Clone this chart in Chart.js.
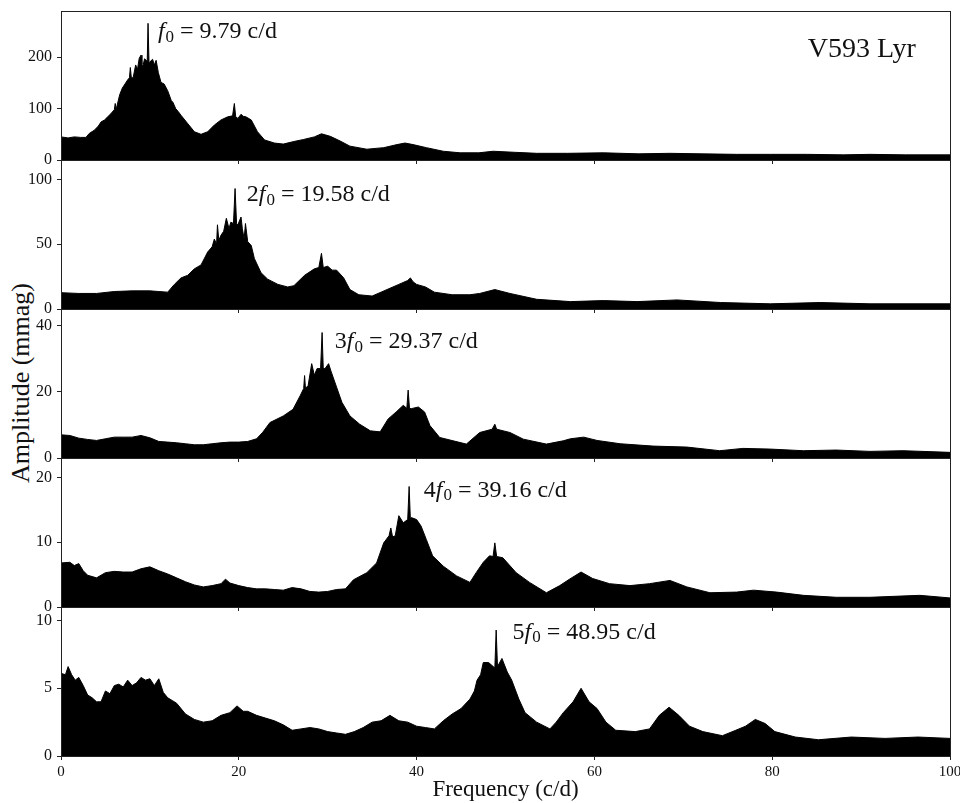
<!DOCTYPE html>
<html>
<head>
<meta charset="utf-8">
<script src="https://cdn.jsdelivr.net/npm/chart.js@4.4.1/dist/chart.umd.min.js"></script>
<style>
body { margin: 0; background: #fff; }
#wrap { position: relative; width: 960px; height: 803px; overflow: hidden; }
canvas { position: absolute; left: 0; }
#ylabel {
    position: absolute; left: 21px; top: 383px; width: 300px; margin-left: -150px;
    line-height: 30px; margin-top: -15px; text-align: center; white-space: nowrap;
    transform: rotate(-90deg); color: #111;
    font: 26px "Liberation Serif", "DejaVu Serif", serif;
}
</style>
</head>
<body>
<div id="wrap"><div id="ylabel">Amplitude (mmag)</div></div>
<script>
// amplitude spectra, [frequency c/d, amplitude mmag]
const spec1 = [[0,45],[0.8,43],[1.5,45],[2.2,44],[2.8,44],[3.2,52],[3.75,58],[4.2,66],[4.5,74],[4.9,78],[5.25,84],[5.6,90],[6.0,98],[6.1,110],[6.2,98],[6.6,127],[6.9,140],[7.2,148],[7.5,156],[7.7,160],[7.8,180],[7.9,162],[8.1,159],[8.4,185],[8.6,176],[8.8,198],[9.0,204],[9.1,186],[9.2,182],[9.4,197],[9.7,192],[9.79,266],[9.9,190],[10.0,191],[10.3,196],[10.5,185],[10.7,194],[10.95,170],[11.25,151],[11.6,148],[12.0,135],[12.4,116],[12.6,112],[12.9,100],[13.2,94],[13.5,87],[14.25,71],[15,55],[15.75,50],[16.5,55],[17.25,68],[18,78],[18.75,84],[19.3,86],[19.5,110],[19.65,84],[19.9,81],[20.25,89],[20.5,85],[20.8,84],[21.4,78],[22.1,55],[22.9,39],[24,33],[25,31],[26.2,36],[27.3,40],[28.5,45],[29.3,51],[30.3,46],[31.4,37],[32.5,27],[34.4,21],[36.3,24],[37.8,30],[38.7,33],[39.6,30],[41.1,24],[43,17],[44.9,14],[47,14],[48.6,17],[51,15],[53.5,13],[57,13],[61,14],[65,12],[68.5,13],[72,12],[76,11],[79.8,11],[84,11],[88,10],[91,11],[95,10],[100,10]];
const spec2 = [[0,12.6],[2,12],[4,12],[6,13.5],[8,14],[10,14],[11,13.5],[12,13],[12.75,19],[13.5,24],[14.25,26],[15,31],[15.75,34],[16.5,44],[17.0,48],[17.25,54],[17.5,50],[17.6,65],[17.75,53],[18,57],[18.3,60],[18.6,70],[18.9,62],[19.1,67],[19.4,66],[19.58,93],[19.75,66],[19.9,65],[20.25,71],[20.4,62],[20.6,54],[20.75,66],[21,52],[21.4,49],[21.75,39],[22.5,28],[23.25,23],[24.4,19],[25.5,17],[26.2,18],[27.4,26],[28.5,31],[29,32],[29.3,43],[29.5,32],[30,33],[30.5,30],[31,30],[31.8,24],[32.5,15],[33.5,11],[35,10],[36,13],[37,16],[38,19],[39,22],[39.3,24],[39.6,21],[40,19],[41,17],[42,13],[44,11],[46,11],[47.1,12],[48.8,15],[50.5,12],[53.5,7.5],[57.3,5.7],[61,6.5],[64.8,5.7],[69.3,7],[74.2,5],[79.8,4],[85.4,5],[91,4],[100,4]];
const spec3 = [[0,7],[1,6.8],[2,6],[3,5.6],[4,5.3],[5,5.8],[6,6.3],[7,6.3],[8,6.3],[9,6.8],[10,6.1],[11,5],[12,4.8],[13,4.6],[14,4.3],[15,4],[16,4],[17,4.3],[18,4.6],[19,4.8],[20,4.8],[21,5],[22,5.8],[22.7,7.8],[23.5,10.7],[25,12.7],[26.1,14.7],[26.9,18.8],[27.3,21],[27.4,24.9],[27.5,21],[27.8,21.9],[28.2,28.5],[28.5,25],[28.8,27],[29.2,27],[29.37,37.9],[29.5,27],[29.7,27],[30.1,28.5],[30.4,26],[31,21.4],[31.6,16.8],[32.5,12.7],[33.6,10.2],[34.8,8.2],[35.9,7.9],[36.8,11.8],[37.7,13.9],[38.5,15.9],[38.9,15],[39.05,20.5],[39.2,15],[39.4,14.9],[40.2,15.4],[40.9,13.9],[41.5,9.8],[42.6,6.2],[44.1,5.2],[45.6,4.2],[47.1,7.7],[48.5,8.7],[48.8,10.2],[49.0,8.7],[50.5,7.7],[52,5.7],[54.6,4.2],[56.5,5.2],[57.3,5.8],[58.8,6.3],[60.3,5.3],[62.9,4.3],[66.6,3.6],[70.4,3.3],[74.1,2.2],[76.7,2.9],[79.7,2.7],[83.5,2.2],[87.2,2.4],[91,2],[94.7,2.2],[100,1.7]];
const spec4 = [[0,6.8],[1,6.9],[1.5,6.4],[2,6.7],[2.5,5.6],[3,4.9],[4,4.5],[4.5,4.9],[5,5.3],[6,5.5],[7,5.4],[8,5.4],[9,5.9],[10,6.2],[11,5.6],[12,5.1],[13,4.5],[14,3.9],[15,3.4],[16,3.1],[17,3.3],[18,3.6],[18.5,4.3],[19,3.7],[20,3.3],[21,3],[22,2.8],[23,2.8],[24,2.7],[25,2.6],[26,3],[27,2.8],[28,2.4],[29,2.3],[30,2.4],[31,2.7],[32,2.8],[32.9,4.2],[34.4,5.3],[35.5,6.8],[36.3,9.9],[36.9,11],[37.1,12.2],[37.3,10.8],[37.6,11],[38,14.1],[38.5,13],[39.0,13.5],[39.16,18.6],[39.3,13.5],[39.4,13.8],[40,13.5],[40.5,12.5],[41.1,10.4],[41.8,7.9],[43,6.3],[44.5,4.8],[46,3.8],[46.7,5.3],[47.5,6.9],[48.2,7.9],[48.6,7.8],[48.8,9.9],[49.0,7.8],[49.7,7.6],[51.2,5.3],[52.7,3.8],[54.6,2.2],[56.1,3.3],[57.2,4.3],[58.5,5.4],[59.8,4.4],[61.7,3.6],[64,3.3],[66.2,3.6],[68.5,4.1],[70.4,3.1],[73,2.2],[76,2.3],[77.9,2.6],[80.5,2.3],[83.5,1.8],[87.2,1.5],[91,1.5],[96.6,1.8],[100,1.4]];
const spec5 = [[0,6.1],[0.5,6.0],[0.8,6.6],[1.2,6.0],[1.6,5.6],[2,5.8],[2.5,5.2],[3,4.5],[3.5,4.3],[4,4.0],[4.5,4.0],[5,4.8],[5.5,4.6],[6,5.2],[6.5,5.3],[7,5.1],[7.5,5.6],[8,5.2],[8.5,5.4],[9,5.8],[9.5,5.6],[10,5.7],[10.5,5.2],[11,5.7],[11.5,4.7],[12,4.3],[12.5,4.1],[13,3.9],[13.5,3.5],[14,3.1],[15,2.7],[16,2.5],[17,2.6],[18,3.0],[19,3.2],[19.8,3.7],[20.5,3.3],[21,3.3],[22,3.0],[23,2.8],[24,2.6],[25,2.3],[26,1.9],[27,2.0],[28,2.1],[29,2.0],[30,1.8],[31,1.7],[32,1.6],[33,1.8],[34,2.1],[35,2.5],[36,2.6],[37,3.0],[38,2.6],[39,2.5],[40,2.2],[41,2.1],[42,2.0],[43,2.6],[44,3.1],[45,3.5],[46,4.2],[46.5,4.8],[46.8,5.6],[47.2,6.0],[47.5,6.9],[48.1,6.9],[48.8,6.5],[48.95,9.3],[49.1,6.6],[49.6,7.2],[50.2,6.2],[50.7,5.6],[51.5,4.2],[52.2,3.2],[53.5,2.5],[55,2.0],[55.7,2.5],[56.5,3.2],[57.6,4.0],[58.5,5.0],[59.4,4.0],[60.3,3.5],[61.3,2.5],[62.4,1.9],[64.6,1.8],[66.2,2.0],[67.3,3.0],[68.4,3.6],[69.5,3.0],[70.7,2.2],[72.2,1.8],[74.4,1.5],[75.9,1.9],[77,2.2],[78.1,2.7],[79.2,2.4],[80.3,1.8],[82.6,1.4],[85.2,1.2],[88.9,1.4],[92.7,1.3],[96.4,1.4],[100,1.3]];

const xTicks = [0, 20, 40, 60, 80, 100];
const yTicks = [[0, 100, 200], [0, 50, 100], [0, 20, 40], [0, 10, 20], [0, 5, 10]];
const yMax = [290, 115, 45, 23, 11];
const harmonic = ['', '2', '3', '4', '5'];
const peakFreq = ['9.79', '19.58', '29.37', '39.16', '48.95'];
const labelX = [10.9, 20.9, 30.8, 40.8, 50.8];
const labelY = [249, 88, 35, 18, 9.1];
const starName = 'V593 Lyr';

const SERIF = '"Liberation Serif", "DejaVu Serif", serif';
const INK = '#111';
const panelTop = [11, 160, 309, 458, 607];
const panelH = 149;
const PAD_TOP = 10;

// frame around each panel + the peak annotation
const panelDeco = {
    id: 'panelDeco',
    afterDraw(chart, args, o) {
        const ctx = chart.ctx;
        const a = chart.chartArea;
        const xs = chart.scales.x, ys = chart.scales.y;
        ctx.save();
        ctx.strokeStyle = '#222';
        ctx.lineWidth = 1;
        ctx.strokeRect(Math.round(a.left) + 0.5, Math.round(a.top) + 0.5, Math.round(a.right - a.left), Math.round(a.bottom - a.top));
        ctx.fillStyle = INK;
        ctx.textBaseline = 'middle';
        ctx.textAlign = 'left';
        const size = 24;
        let x = xs.getPixelForValue(o.x);
        const y = ys.getPixelForValue(o.y);
        if (o.n) {
            ctx.font = size + 'px ' + SERIF;
            ctx.fillText(o.n, x, y);
            x += ctx.measureText(o.n).width;
        }
        ctx.font = 'italic ' + size + 'px ' + SERIF;
        ctx.fillText('f', x, y);
        x += ctx.measureText('f').width + 1;
        ctx.font = Math.round(size * 0.7) + 'px ' + SERIF;
        ctx.fillText('0', x, y + size * 0.22);
        x += ctx.measureText('0').width + 6;
        ctx.font = size + 'px ' + SERIF;
        ctx.fillText('=', x, y);
        x += ctx.measureText('=').width + 6;
        ctx.fillText(o.f + ' c/d', x, y);
        if (o.star) {
            ctx.font = '28px ' + SERIF;
            ctx.fillText(o.star, xs.getPixelForValue(84), ys.getPixelForValue(214));
        }
        ctx.restore();
    }
};

const wrap = document.getElementById('wrap');
const specs = [spec1, spec2, spec3, spec4, spec5];

specs.forEach((spec, i) => {
    const last = i === specs.length - 1;
    const xh = last ? 48 : 6;
    const cv = document.createElement('canvas');
    cv.width = 960;
    cv.height = PAD_TOP + panelH + xh;
    cv.style.top = (panelTop[i] - PAD_TOP) + 'px';
    wrap.appendChild(cv);

    new Chart(cv, {
        type: 'line',
        data: {
            datasets: [{
                data: spec.map(p => ({ x: p[0], y: p[1] })),
                borderColor: '#000',
                backgroundColor: '#000',
                borderWidth: 1,
                fill: 'origin',
                pointRadius: 0,
                tension: 0
            }]
        },
        options: {
            responsive: false,
            animation: false,
            devicePixelRatio: 1,
            layout: { padding: { top: PAD_TOP, right: 10, left: 0, bottom: 0 } },
            plugins: {
                legend: { display: false },
                tooltip: { enabled: false },
                panelDeco: {
                    x: labelX[i], y: labelY[i], n: harmonic[i], f: peakFreq[i],
                    star: i === 0 ? starName : null
                }
            },
            scales: {
                x: {
                    type: 'linear',
                    min: 0,
                    max: 100,
                    afterBuildTicks: s => { s.ticks = xTicks.map(v => ({ value: v })); },
                    afterFit: s => {
                        s.height = xh;
                        s.paddingLeft = 0;
                        s.paddingRight = 0;
                    },
                    ticks: {
                        display: last,
                        color: INK,
                        padding: 3,
                        maxRotation: 0,
                        font: { family: SERIF, size: 15 }
                    },
                    grid: { drawOnChartArea: false, drawTicks: true, tickLength: 4, color: '#222' },
                    border: { display: true, color: '#222' },
                    title: {
                        display: last,
                        text: 'Frequency (c/d)',
                        color: INK,
                        padding: 0,
                        font: { family: SERIF, size: 23 }
                    }
                },
                y: {
                    min: 0,
                    max: yMax[i],
                    afterBuildTicks: s => { s.ticks = yTicks[i].map(v => ({ value: v })); },
                    afterFit: s => {
                        s.width = 61;
                        s.paddingTop = 0;
                        s.paddingBottom = 0;
                    },
                    ticks: {
                        color: INK,
                        padding: 5,
                        font: { family: SERIF, size: 16 }
                    },
                    grid: { drawOnChartArea: false, drawTicks: true, tickLength: 4, color: '#222' },
                    border: { display: true, color: '#222' }
                }
            }
        },
        plugins: [panelDeco]
    });
});
</script>
</body>
</html>
